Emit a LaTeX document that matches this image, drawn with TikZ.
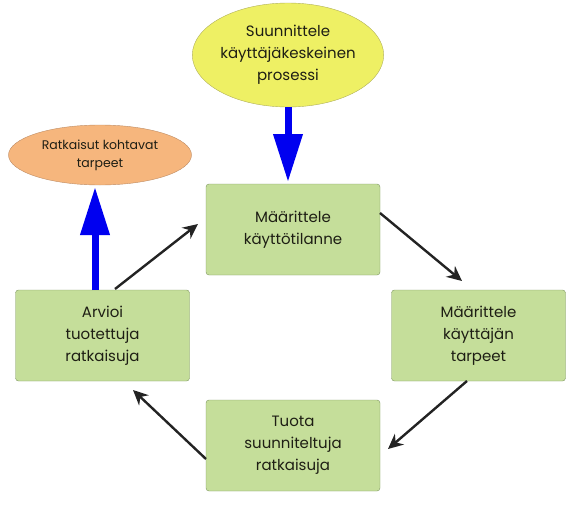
\documentclass[tikz,border=0pt]{standalone}
\usepackage{fontspec}
\setmainfont{Poppins}
\usetikzlibrary{shapes.geometric,arrows.meta}
\definecolor{boxfill}{RGB}{197,222,154}
\definecolor{boxdraw}{RGB}{125,150,95}
\definecolor{yell}{RGB}{238,240,100}
\definecolor{yelldraw}{RGB}{175,175,90}
\definecolor{orng}{RGB}{246,182,125}
\definecolor{orngdraw}{RGB}{190,140,100}
\definecolor{txt}{RGB}{30,30,20}
\definecolor{arr}{RGB}{35,35,35}
\begin{document}
\begin{tikzpicture}[x=1pt,y=-1pt,
  stepbox/.style={draw=boxdraw,fill=boxfill,rounded corners=3pt,minimum width=174pt,minimum height=91pt,
     align=center,font=\fontsize{15}{22}\selectfont,text=txt,inner sep=0pt},
  cyc/.style={draw=arr,line width=2.4pt,-{Stealth[length=15pt,width=14pt]}},
  big/.style={draw={rgb,255:red,0;green,0;blue,240},line width=7pt,-{Triangle[length=48pt,width=28pt]}}]
\useasboundingbox (0,0) rectangle (582,509);
\node[stepbox] (b1) at (293,229.5) {Määrittele\\käyttötilanne};
\node[stepbox] (b2) at (478.5,335.5) {Määrittele\\käyttäjän\\tarpeet};
\node[stepbox] (b3) at (293,445.5) {Tuota\\suunniteltuja\\ratkaisuja};
\node[stepbox] (b4) at (102.5,335.5) {Arvioi\\tuotettuja\\ratkaisuja};
\node[ellipse,draw=yelldraw,fill=yell,minimum width=183pt,minimum height=104pt,inner sep=0pt,
  align=center,font=\fontsize{15}{22}\selectfont,text=txt] (e1) at (288,55) {Suunnittele\\käyttäjäkeskeinen\\prosessi};
\node[ellipse,draw=orngdraw,fill=orng,minimum width=183pt,minimum height=60pt,inner sep=0pt,
  align=center,font=\fontsize{12.5}{18}\selectfont,text=txt] (e2) at (100,155) {Ratkaisut kohtavat\\tarpeet};
\coordinate (a1s) at (115,289);
\coordinate (a1e) at (198,224);
\coordinate (a2s) at (380,213);
\coordinate (a2e) at (462,281);
\coordinate (a3s) at (467,381);
\coordinate (a3e) at (388,449);
\coordinate (a4s) at (206,459);
\coordinate (a4e) at (133,390);
\draw[cyc] (a1s) -- (a1e);
\draw[cyc] (a2s) -- (a2e);
\draw[cyc] (a3s) -- (a3e);
\draw[cyc] (a4s) -- (a4e);
\draw[big] (e1.south) -- (288,182);
\coordinate (bl) at (95,290);
\draw[big] (bl) -- (95,187);
\end{tikzpicture}
\end{document}
